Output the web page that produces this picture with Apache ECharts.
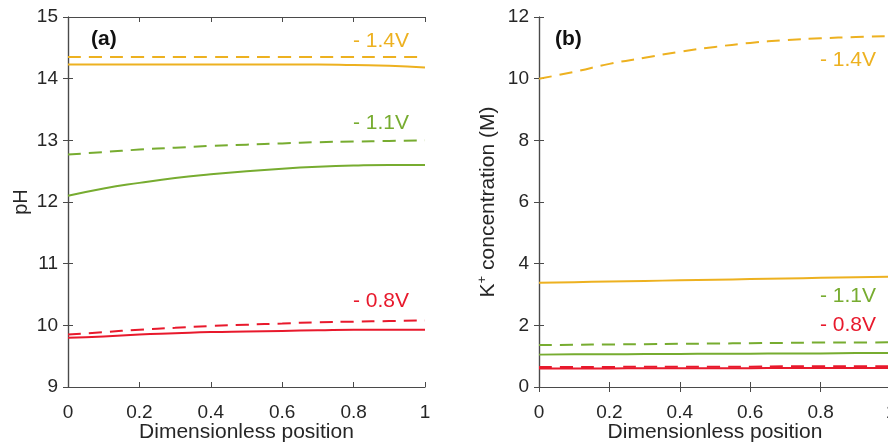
<!DOCTYPE html>
<html><head><meta charset="utf-8">
<script src="https://cdn.jsdelivr.net/npm/echarts@6/dist/echarts.min.js"></script>
<style>html,body{margin:0;padding:0;background:#fff}#c{width:888px;height:445px}</style>
</head><body><div id="c"></div>
<script>
const positions = [0,0.1,0.2,0.3,0.4,0.5,0.6,0.7,0.8,0.9,1.0];
// panel (a): pH
const ph14Dash  = [14.35,14.35,14.35,14.35,14.35,14.35,14.35,14.35,14.35,14.35,14.35];
const ph14Solid = [14.23,14.23,14.23,14.23,14.23,14.23,14.23,14.23,14.22,14.21,14.18];
const ph11Dash  = [12.77,12.81,12.85,12.88,12.91,12.93,12.95,12.97,12.98,12.99,13.0];
const ph11Solid = [12.10,12.22,12.31,12.39,12.45,12.50,12.54,12.57,12.59,12.60,12.60];
const ph08Dash  = [9.85,9.89,9.93,9.96,9.99,10.01,10.03,10.05,10.06,10.07,10.08];
const ph08Solid = [9.80,9.82,9.85,9.87,9.89,9.90,9.91,9.92,9.93,9.93,9.93];
// panel (b): K+ concentration
const k14Dash  = [10.0,10.22,10.48,10.68,10.87,11.03,11.16,11.25,11.31,11.35,11.38];
const k14Solid = [3.38,3.40,3.42,3.44,3.46,3.48,3.50,3.52,3.54,3.56,3.58];
const k11Dash  = [1.36,1.37,1.38,1.39,1.40,1.41,1.42,1.43,1.44,1.44,1.45];
const k11Solid = [1.05,1.06,1.06,1.07,1.07,1.08,1.08,1.09,1.09,1.10,1.10];
const k08Dash  = [0.65,0.65,0.65,0.66,0.66,0.66,0.66,0.67,0.67,0.67,0.67];
const k08Solid = [0.60,0.60,0.60,0.61,0.61,0.61,0.61,0.62,0.62,0.62,0.62];
const xTicks = [0,0.2,0.4,0.6,0.8,1];
const labels = ['- 1.4V','- 1.1V','- 0.8V'];

const ORANGE='#EDB120', GREEN='#77AC30', RED='#E8192C';
const FONT='Liberation Sans, Arial, sans-serif';
const AX='#4a4a4a';
const chart = echarts.init(document.getElementById('c'));

function xAxes(grid){
  return [
    {type:'value',gridIndex:grid,min:0,max:1,interval:0.2,
     axisLine:{lineStyle:{color:AX,width:1.2}},
     axisTick:{inside:true,length:5,lineStyle:{color:AX}},
     axisLabel:{color:'#262626',fontSize:19,fontFamily:FONT,margin:16,
       formatter:v=>xTicks.indexOf(v)>=0?String(v):''},
     splitLine:{show:false},
     name:'Dimensionless position',nameLocation:'middle',nameGap:35,nameMoveOverlap:false,
     nameTextStyle:{color:'#262626',fontSize:21,fontFamily:FONT}},
    {type:'value',gridIndex:grid,position:'top',min:0,max:1,interval:0.2,
     axisLine:{lineStyle:{color:AX,width:1.2}},
     axisTick:{inside:true,length:5,lineStyle:{color:AX}},
     axisLabel:{show:false},splitLine:{show:false}}
  ];
}
function yAxes(grid,min,max,interval,name,gap,fs,rich){
  return [
    {type:'value',gridIndex:grid,min:min,max:max,interval:interval,
     axisLine:{show:true,lineStyle:{color:AX,width:1.2}},
     axisTick:{show:true,inside:true,length:5,lineStyle:{color:AX}},
     axisLabel:{color:'#262626',fontSize:19,fontFamily:FONT,margin:10},
     splitLine:{show:false},
     name:name,nameLocation:'middle',nameGap:gap,nameMoveOverlap:false,
     nameTextStyle:Object.assign({color:'#262626',fontSize:fs,fontFamily:FONT},rich?{rich:rich}:{})},
    {type:'value',gridIndex:grid,position:'right',min:min,max:max,interval:interval,
     axisLine:{show:true,lineStyle:{color:AX,width:1.2}},
     axisTick:{show:true,inside:true,length:5,lineStyle:{color:AX}},
     axisLabel:{show:false},splitLine:{show:false}}
  ];
}
function line(xi,yi,data,color,dashed){
  return {type:'line',xAxisIndex:xi,yAxisIndex:yi,smooth:true,symbol:'none',
    data:positions.map((x,i)=>[x,data[i]]),
    lineStyle:{color:color,width:2,type:dashed?[13,8]:'solid'},z:3};
}
function txt(x,y,text,color,bold){
  return {type:'text',left:x,top:y,style:{text:text,fill:color,
    font:(bold?'bold ':'')+'21px '+FONT}};
}
const option = {
  animation:false,
  backgroundColor:'#fff',
  grid:[
    {left:68,top:17,width:357,height:370,outerBoundsMode:'none',containLabel:false},
    {left:539,top:17,width:352,height:370,outerBoundsMode:'none',containLabel:false}
  ],
  xAxis:[...xAxes(0),...xAxes(1)],
  yAxis:[...yAxes(0,9,15,1,'pH',37,20),
         ...yAxes(1,0,12,2,'{n|K}{s|+}{n| concentration (M)}',38,21,
            {n:{fontSize:21,fontFamily:FONT,color:'#262626'},
             s:{fontSize:13,fontFamily:FONT,color:'#262626',verticalAlign:'top',padding:[0,0,12,0]}})],
  series:[
    line(0,0,ph14Dash,ORANGE,true), line(0,0,ph14Solid,ORANGE,false),
    line(0,0,ph11Dash,GREEN,true),  line(0,0,ph11Solid,GREEN,false),
    line(0,0,ph08Dash,RED,true),    line(0,0,ph08Solid,RED,false),
    line(2,2,k14Dash,ORANGE,true),  line(2,2,k14Solid,ORANGE,false),
    line(2,2,k11Dash,GREEN,true),   line(2,2,k11Solid,GREEN,false),
    line(2,2,k08Dash,RED,true),     line(2,2,k08Solid,RED,false)
  ],
  graphic:[
    txt(91,29,'(a)','#111',true),
    txt(555,29,'(b)','#111',true),
    txt(353,31,labels[0],ORANGE), txt(353,113,labels[1],GREEN), txt(353,291,labels[2],RED),
    txt(820,50,labels[0],ORANGE), txt(820,286,labels[1],GREEN), txt(820,315,labels[2],RED)
  ]
};
chart.setOption(option);
</script></body></html>
